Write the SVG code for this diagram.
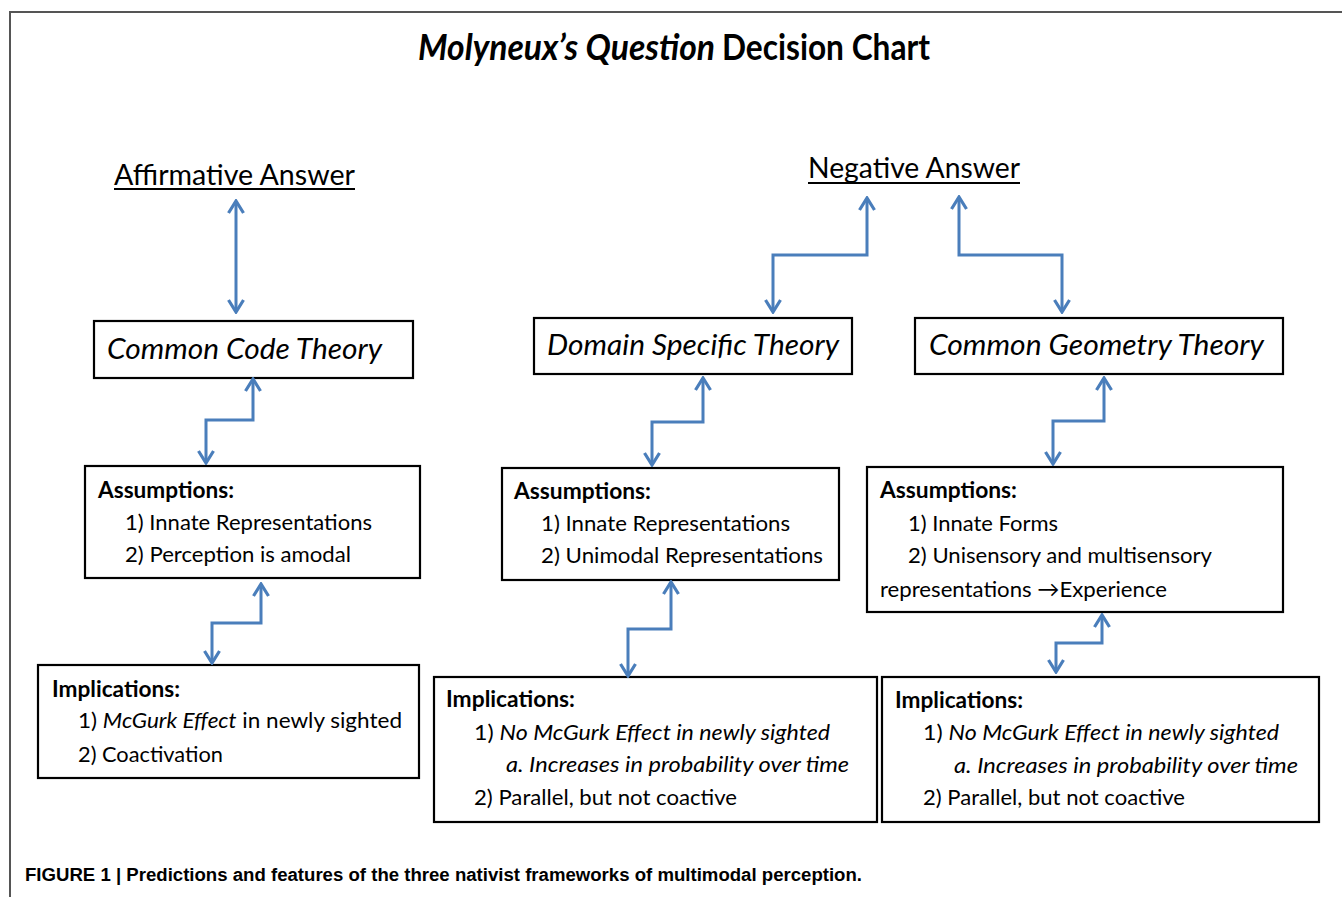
<svg xmlns="http://www.w3.org/2000/svg" width="1342" height="897" viewBox="0 0 1342 897">
<style>
  .box { fill: #ffffff; stroke: #000000; stroke-width: 2.2; }
  .conn { fill: none; stroke: #4a7ebb; stroke-width: 3; stroke-linejoin: miter; }
  .t { font-family: Lato, "Open Sans", sans-serif; fill: #000000; }
  .body { font-size: 22px; }
  .hd { font-size: 22px; font-weight: bold; }
  .theory { font-size: 29px; font-style: italic; }
  .ans { font-size: 28px; }
  .it { font-style: italic; }
  .ul { stroke: #000000; stroke-width: 2; }
  .ttl { font-size: 36px; font-weight: bold; }
</style>
<defs>
  <marker id="ah" viewBox="-15 -10 17 20" refX="0" refY="0" markerWidth="17" markerHeight="20" markerUnits="userSpaceOnUse" orient="auto-start-reverse">
    <path d="M-12,-7.5 L0,0 L-12,7.5" fill="none" stroke="#4a7ebb" stroke-width="3.2"/>
  </marker>
</defs>
<rect width="1342" height="897" fill="#ffffff"/>
<g id="frame">
  <path d="M10,897 L10,12 L1342,12" fill="none" stroke="#555555" stroke-width="2"/>
</g>
<g id="title">
  <text class="t ttl" x="418" y="60" font-style="italic" textLength="297" lengthAdjust="spacingAndGlyphs">Molyneux’s Question</text>
  <text class="t ttl" x="722" y="60" textLength="208" lengthAdjust="spacingAndGlyphs">Decision Chart</text>
</g>
<g id="affirmative">
  <text class="t ans" x="114" y="185" textLength="241" lengthAdjust="spacingAndGlyphs">Affirmative Answer</text>
  <line class="ul" x1="114" y1="189" x2="355" y2="189"/>
</g>
<g id="negative">
  <text class="t ans" x="808" y="178" textLength="212" lengthAdjust="spacingAndGlyphs">Negative Answer</text>
  <line class="ul" x1="808" y1="183" x2="1020" y2="183"/>
</g>
<g id="common-code">
  <rect class="box" x="94" y="321" width="319" height="57"/>
  <text class="t theory" x="107" y="359" textLength="275" lengthAdjust="spacingAndGlyphs">Common Code Theory</text>
</g>
<g id="domain-specific">
  <rect class="box" x="534" y="318" width="318" height="56"/>
  <text class="t theory" x="547" y="355" textLength="292" lengthAdjust="spacingAndGlyphs">Domain Specific Theory</text>
</g>
<g id="common-geometry">
  <rect class="box" x="915" y="318" width="368" height="56"/>
  <text class="t theory" x="929" y="355" textLength="335" lengthAdjust="spacingAndGlyphs">Common Geometry Theory</text>
</g>
<g id="assumptions-left">
  <rect class="box" x="85" y="466" width="335" height="112"/>
  <text class="t hd" x="98" y="498" textLength="136" lengthAdjust="spacingAndGlyphs">Assumptions:</text>
  <text class="t body" x="125" y="530" textLength="247" lengthAdjust="spacingAndGlyphs">1) Innate Representations</text>
  <text class="t body" x="125" y="562" textLength="226" lengthAdjust="spacingAndGlyphs">2) Perception  is amodal</text>
</g>
<g id="assumptions-middle">
  <rect class="box" x="502" y="468" width="337" height="112"/>
  <text class="t hd" x="514" y="499" textLength="137" lengthAdjust="spacingAndGlyphs">Assumptions:</text>
  <text class="t body" x="541" y="531" textLength="249" lengthAdjust="spacingAndGlyphs">1) Innate Representations</text>
  <text class="t body" x="541" y="563" textLength="282" lengthAdjust="spacingAndGlyphs">2) Unimodal Representations</text>
</g>
<g id="assumptions-right">
  <rect class="box" x="867" y="467" width="416" height="145"/>
  <text class="t hd" x="880" y="498" textLength="137" lengthAdjust="spacingAndGlyphs">Assumptions:</text>
  <text class="t body" x="908" y="531" textLength="150" lengthAdjust="spacingAndGlyphs">1) Innate Forms</text>
  <text class="t body" x="908" y="563" textLength="304" lengthAdjust="spacingAndGlyphs">2) Unisensory  and multisensory</text>
  <text class="t body" x="880" y="597" textLength="287" lengthAdjust="spacingAndGlyphs">representations  →Experience</text>
</g>
<g id="implications-left">
  <rect class="box" x="38" y="665" width="381" height="113"/>
  <text class="t hd" x="52" y="697" textLength="128" lengthAdjust="spacingAndGlyphs">Implications:</text>
  <text class="t body" x="78" y="728" textLength="324" lengthAdjust="spacingAndGlyphs">1) <tspan class="it">McGurk Effect</tspan> in newly sighted</text>
  <text class="t body" x="78" y="762" textLength="145" lengthAdjust="spacingAndGlyphs">2) Coactivation</text>
</g>
<g id="implications-middle">
  <rect class="box" x="434" y="677" width="443" height="145"/>
  <text class="t hd" x="446" y="707" textLength="129" lengthAdjust="spacingAndGlyphs">Implications:</text>
  <text class="t body" x="474" y="740" textLength="356" lengthAdjust="spacingAndGlyphs">1) <tspan class="it">No McGurk Effect in newly sighted</tspan></text>
  <text class="t body it" x="506" y="772" textLength="343" lengthAdjust="spacingAndGlyphs">a. Increases in probability over time</text>
  <text class="t body" x="474" y="805" textLength="263" lengthAdjust="spacingAndGlyphs">2) Parallel, but not coactive</text>
</g>
<g id="implications-right">
  <rect class="box" x="882" y="677" width="437" height="145"/>
  <text class="t hd" x="895" y="708" textLength="128" lengthAdjust="spacingAndGlyphs">Implications:</text>
  <text class="t body" x="923" y="740" textLength="356" lengthAdjust="spacingAndGlyphs">1) <tspan class="it">No McGurk Effect in newly sighted</tspan></text>
  <text class="t body it" x="954" y="773" textLength="344" lengthAdjust="spacingAndGlyphs">a. Increases in probability over time</text>
  <text class="t body" x="923" y="805" textLength="262" lengthAdjust="spacingAndGlyphs">2) Parallel, but not coactive</text>
</g>
<g id="connectors">
  <path class="conn" d="M236,201 L236,312" marker-start="url(#ah)" marker-end="url(#ah)"/>
  <path class="conn" d="M867,198 L867,255 L773,255 L773,312" marker-start="url(#ah)" marker-end="url(#ah)"/>
  <path class="conn" d="M959,197 L959,255 L1062,255 L1062,312" marker-start="url(#ah)" marker-end="url(#ah)"/>
  <path class="conn" d="M253,379 L253,420 L206,420 L206,463" marker-start="url(#ah)" marker-end="url(#ah)"/>
  <path class="conn" d="M261,584 L261,623 L212,623 L212,663" marker-start="url(#ah)" marker-end="url(#ah)"/>
  <path class="conn" d="M703,378 L703,422 L652,422 L652,465" marker-start="url(#ah)" marker-end="url(#ah)"/>
  <path class="conn" d="M671,582 L671,629 L628,629 L628,676" marker-start="url(#ah)" marker-end="url(#ah)"/>
  <path class="conn" d="M1104,378 L1104,421 L1053,421 L1053,464" marker-start="url(#ah)" marker-end="url(#ah)"/>
  <path class="conn" d="M1102,615 L1102,643 L1056,643 L1056,672" marker-start="url(#ah)" marker-end="url(#ah)"/>
</g>
<g id="caption">
  <text x="25" y="881" font-family="'Liberation Sans', Arial, sans-serif" font-size="18" font-weight="bold" fill="#000000" textLength="837" lengthAdjust="spacingAndGlyphs">FIGURE 1 | Predictions and features of the three nativist frameworks of multimodal perception.</text>
</g>
</svg>
